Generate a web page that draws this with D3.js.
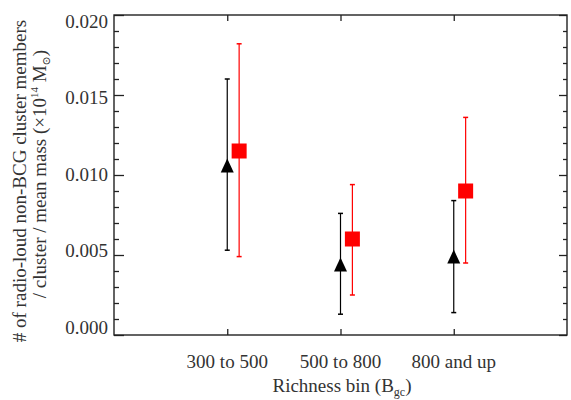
<!DOCTYPE html>
<html>
<head>
<meta charset="utf-8">
<script src="https://cdn.jsdelivr.net/npm/d3@7/dist/d3.min.js"></script>
<style>
  html, body { margin: 0; padding: 0; background: #fff; }
</style>
</head>
<body>
<svg id="chart" width="571" height="400"></svg>
<script>
// Richness bins along the x axis
const categories = ["300 to 500", "500 to 800", "800 and up"];

// All radio-loud non-BCG members (black triangles)
const allValues = [0.0106, 0.0044, 0.0049];
const allLower  = [0.0053, 0.0013, 0.0014];
const allUpper  = [0.0160, 0.0076, 0.0084];

// Second sample (red squares)
const redValues = [0.0115, 0.0060, 0.0090];
const redLower  = [0.0049, 0.0025, 0.0045];
const redUpper  = [0.0182, 0.0094, 0.0136];

// Y axis ticks
const yMajor = [0, 0.005, 0.010, 0.015, 0.020];
const yMinor = d3.range(0, 21).map(d => d / 1000).filter(d => Math.round(d * 1000) % 5 !== 0);
const yTickLabels = ["0.000", "0.005", "0.010", "0.015", "0.020"];

const FONT = "'Liberation Serif', 'DejaVu Serif', serif";
const FS = 19;
const svg = d3.select("#chart")
  .attr("font-family", FONT)
  .style("font-family", FONT);
const L = 114, R = 567, T = 15, B = 335;

const x = d3.scaleLinear().domain([0, 4]).range([L, R]);
const y = d3.scaleLinear().domain([0, 0.02]).range([B, T]);
// label placement keeps the end labels inside the frame
const yLab = d3.scaleLinear().domain([0, 0.02]).range([327, 21]);
const redShift = 0.105;

const axisColor = "#222";
const textColor = "#333";

function styleAxis(g) {
  g.select(".domain").remove();
  g.selectAll(".tick line").attr("stroke", axisColor).attr("stroke-width", 1.3);
  g.selectAll(".tick text").remove();
}

// left axis ticks (inward)
svg.append("g").attr("transform", `translate(${L},0)`)
  .call(d3.axisLeft(y).tickValues(yMajor).tickSize(-10).tickFormat("")).call(styleAxis);
svg.append("g").attr("transform", `translate(${L},0)`)
  .call(d3.axisLeft(y).tickValues(yMinor).tickSize(-5).tickFormat("")).call(styleAxis);
// right axis ticks (inward)
svg.append("g").attr("transform", `translate(${R},0)`)
  .call(d3.axisRight(y).tickValues(yMajor).tickSize(-8).tickFormat("")).call(styleAxis);
svg.append("g").attr("transform", `translate(${R},0)`)
  .call(d3.axisRight(y).tickValues(yMinor).tickSize(-4).tickFormat("")).call(styleAxis);
// bottom and top category ticks
const catPos = categories.map((c, i) => i + 1);
svg.append("g").attr("transform", `translate(0,${B})`)
  .call(d3.axisBottom(x).tickValues(catPos).tickSize(-6).tickFormat("")).call(styleAxis);
svg.append("g").attr("transform", `translate(0,${T})`)
  .call(d3.axisTop(x).tickValues(catPos).tickSize(-6).tickFormat("")).call(styleAxis);

// frame
svg.append("rect")
  .attr("x", L).attr("y", T).attr("width", R - L).attr("height", B - T)
  .attr("fill", "none").attr("stroke", axisColor).attr("stroke-width", 1.4);

function txt(sel) {
  return sel.attr("font-family", FONT).style("font-family", FONT).attr("fill", textColor);
}

// y tick labels
svg.selectAll(".ylab").data(yMajor).enter().append("text")
  .attr("class", "ylab")
  .attr("x", 108).attr("y", d => yLab(d))
  .attr("dy", "0.35em")
  .attr("text-anchor", "end")
  .attr("font-size", FS)
  .call(txt)
  .text((d, i) => yTickLabels[i]);

// x category labels
svg.selectAll(".xlab").data(categories).enter().append("text")
  .attr("class", "xlab")
  .attr("x", (d, i) => x(i + 1)).attr("y", 368)
  .attr("text-anchor", "middle")
  .attr("font-size", FS)
  .call(txt)
  .text(d => d);

// x axis title
const xt = svg.append("text")
  .attr("x", 342).attr("y", 392)
  .attr("text-anchor", "middle")
  .attr("font-size", FS)
  .call(txt);
xt.append("tspan").text("Richness bin (B");
xt.append("tspan").attr("font-size", 12).attr("dy", 4).text("gc");
xt.append("tspan").attr("dy", -4).text(")");

// y axis title, two lines
svg.append("text")
  .attr("transform", "translate(26,181) rotate(-90)")
  .attr("text-anchor", "middle")
  .attr("font-size", FS)
  .call(txt)
  .text("# of radio-loud non-BCG cluster members");
const yt2 = svg.append("text")
  .attr("transform", "translate(46,174) rotate(-90)")
  .attr("text-anchor", "middle")
  .attr("font-size", FS)
  .call(txt);
yt2.append("tspan").text("/ cluster / mean mass (\u00D710");
yt2.append("tspan").attr("font-size", 11).attr("dy", -8).text("14");
yt2.append("tspan").attr("dy", 8).text(" M");
yt2.append("tspan").attr("font-size", 11).attr("dy", 4).text("\u2299");
yt2.append("tspan").attr("dy", -4).text(")");

// error bars + markers
function drawSeries(values, lower, upper, shift, color, shape) {
  const g = svg.append("g");
  const data = values.map((v, i) => ({ cx: x(i + 1 + shift), v, lo: lower[i], hi: upper[i] }));
  g.selectAll(".bar").data(data).enter().append("line")
    .attr("x1", d => d.cx).attr("x2", d => d.cx)
    .attr("y1", d => y(d.lo)).attr("y2", d => y(d.hi))
    .attr("stroke", color).attr("stroke-width", 1.2);
  ["lo", "hi"].forEach(k => {
    g.selectAll(".cap" + k).data(data).enter().append("line")
      .attr("x1", d => d.cx - 2.5).attr("x2", d => d.cx + 2.5)
      .attr("y1", d => y(d[k])).attr("y2", d => y(d[k]))
      .attr("stroke", color).attr("stroke-width", 1.5);
  });
  if (shape === "triangle") {
    g.selectAll(".mk").data(data).enter().append("path")
      .attr("d", d => {
        const cy = y(d.v);
        return `M${d.cx},${cy - 7}L${d.cx + 6.5},${cy + 7}L${d.cx - 6.5},${cy + 7}Z`;
      })
      .attr("fill", color);
  } else {
    g.selectAll(".mk").data(data).enter().append("rect")
      .attr("x", d => d.cx - 7.5).attr("y", d => y(d.v) - 7.5)
      .attr("width", 15).attr("height", 15)
      .attr("fill", color);
  }
}

drawSeries(allValues, allLower, allUpper, 0, "#000", "triangle");
drawSeries(redValues, redLower, redUpper, redShift, "#ff0000", "square");
</script>
</body>
</html>
